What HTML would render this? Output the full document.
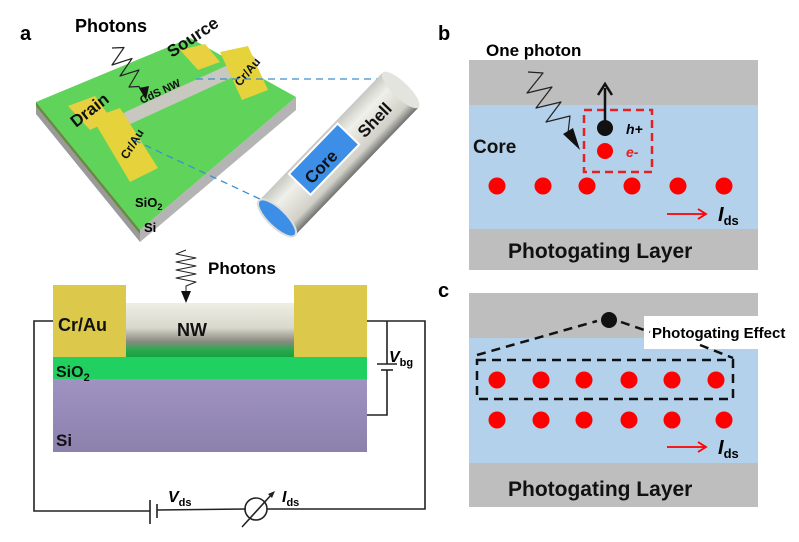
<!DOCTYPE html>
<html><head><meta charset="utf-8"><style>
html,body{margin:0;padding:0;background:#fff}
svg{display:block}
text{font-family:"Liberation Sans",sans-serif;font-weight:bold}
</style></head><body>
<svg width="799" height="542" viewBox="0 0 799 542" xmlns="http://www.w3.org/2000/svg">
<defs>
<linearGradient id="nw" x1="0" y1="0" x2="0" y2="1">
<stop offset="0" stop-color="#eeeee4"/><stop offset="0.45" stop-color="#d8d8cc"/><stop offset="0.7" stop-color="#8a8a80"/><stop offset="0.85" stop-color="#2aa84e"/><stop offset="1" stop-color="#14a040"/></linearGradient>
<linearGradient id="si" x1="0" y1="0" x2="0" y2="1"><stop offset="0" stop-color="#a093c2"/><stop offset="1" stop-color="#8c80ad"/></linearGradient>
<linearGradient id="tube" x1="0" y1="0" x2="0" y2="1"><stop offset="0" stop-color="#c8c8c2"/><stop offset="0.3" stop-color="#f0f0ea"/><stop offset="0.8" stop-color="#d0d0c8"/><stop offset="1" stop-color="#707070"/></linearGradient>
</defs>

<!-- Panel a 3D -->
<text x="20" y="40" font-size="20">a</text>
<text x="75" y="32" font-size="18">Photons</text>
<polygon points="36,102 140,230 140,242 36,114" fill="#9a9a9a"/>
<polygon points="140,230 296,97 296,110 140,242" fill="#b4b4b4"/>
<polygon points="36,102 140,230 140,234 36,106" fill="#6a8a40"/>
<polygon points="36,102 190,38 296,97 140,230" fill="#5fd35a"/>
<line x1="128" y1="118" x2="250" y2="62" stroke="#c8c8c0" stroke-width="13" stroke-linecap="round"/>
<polygon points="68,106 95,96 112,120 90,130" fill="#e8d040"/>
<polygon points="92,118 120,108 158,168 130,182" fill="#e6d23a"/>
<polygon points="180,50 205,44 220,62 198,70" fill="#e8d040"/>
<polygon points="220,52 248,46 268,90 242,100" fill="#e6d23a"/>
<text transform="translate(76,128) rotate(-38)" font-size="17" font-weight="normal" fill="#111">Drain</text>
<text transform="translate(172,58) rotate(-34)" font-size="17" font-weight="normal" fill="#111">Source</text>
<text transform="translate(142,104) rotate(-25)" font-size="11" fill="#111">CdS NW</text>
<text transform="translate(127,160) rotate(-58)" font-size="12" fill="#111">Cr/Au</text>
<text transform="translate(240,87) rotate(-50)" font-size="12" fill="#111">Cr/Au</text>
<text x="135" y="207" font-size="13">SiO<tspan font-size="9" dy="3">2</tspan></text>
<text x="144" y="232" font-size="13">Si</text>
<polyline points="112,48 124,47.5 112,65 132,58.5 120,76 139,70 129,87 139,86.5 145,95" fill="none" stroke="#222" stroke-width="1.2" stroke-linejoin="round"/>
<polygon points="139,88 149,86 146,100" fill="#111"/>
<line x1="196" y1="79" x2="400" y2="79" stroke="#3a8fd0" stroke-width="1.3" stroke-dasharray="7,5"/>
<line x1="134" y1="140" x2="262" y2="200" stroke="#3a8fd0" stroke-width="1.3" stroke-dasharray="7,5"/>
<g transform="translate(277,218) rotate(-46)">
<rect x="0" y="-25" width="178" height="50" fill="url(#tube)"/>
<ellipse cx="178" cy="0" rx="8" ry="25" fill="#e4e4de"/>
<rect x="40" y="-22" width="70" height="30" fill="#3c8ee6" stroke="#fff" stroke-width="2"/>
<ellipse cx="0" cy="0" rx="9" ry="25" fill="#3c8ee6" stroke="#ddd" stroke-width="2"/>
<text x="48" y="2" font-size="17" fill="#111">Core</text>
<text x="118" y="8" font-size="17" fill="#111">Shell</text>
</g>

<!-- cross-section -->
<text x="208" y="274" font-size="17">Photons</text>
<polyline points="186,250 176,254 196,258 176,262 196,266 176,270 196,274 176,278 196,282 186,286 186,296" fill="none" stroke="#222" stroke-width="1" stroke-linejoin="round"/>
<polygon points="181,291 191,291 186,303" fill="#111"/>
<rect x="53" y="285" width="73" height="73" fill="#dcc84a"/>
<rect x="294" y="285" width="73" height="73" fill="#dcc84a"/>
<rect x="126" y="303" width="168" height="55" fill="url(#nw)"/>
<rect x="53" y="357" width="314" height="22" fill="#20d060"/>
<rect x="53" y="379" width="314" height="73" fill="url(#si)"/>
<text x="58" y="331" font-size="18" fill="#111">Cr/Au</text>
<text x="177" y="336" font-size="18" fill="#111">NW</text>
<text x="56" y="377" font-size="16" fill="#111">SiO<tspan font-size="11" dy="4">2</tspan></text>
<text x="56" y="446" font-size="17" fill="#111">Si</text>
<g stroke="#222" stroke-width="1.6" fill="none">
<polyline points="53,321 34,321 34,511 150,511"/>
<polyline points="157,510 246,509"/>
<polyline points="267,509 425,509 425,321 367,321"/>
<polyline points="387,321 387,364"/>
<polyline points="387,370 387,415 367,415"/>
<line x1="377" y1="364" x2="397" y2="364"/>
<line x1="381" y1="370" x2="393" y2="370"/>
<line x1="150" y1="500" x2="150" y2="524"/>
<line x1="157" y1="504" x2="157" y2="518"/>
<circle cx="256" cy="509" r="11"/>
<line x1="242" y1="527" x2="272" y2="494"/>
</g>
<polygon points="268,494 275,491 272,498" fill="#222"/>
<text x="389" y="362" font-size="16" font-style="italic">V<tspan font-size="11" font-style="normal" dy="4">bg</tspan></text>
<text x="168" y="502" font-size="16" font-style="italic">V<tspan font-size="11" font-style="normal" dy="4">ds</tspan></text>
<text x="282" y="502" font-size="16" font-style="italic">I<tspan font-size="11" font-style="normal" dy="4">ds</tspan></text>

<!-- Panel b -->
<text x="438" y="40" font-size="20">b</text>
<rect x="469" y="60" width="289" height="210" fill="#bebebe"/>
<rect x="469" y="105" width="289" height="124" fill="#b3d1ea"/>
<text x="486" y="56" font-size="17">One photon</text>
<text x="473" y="153" font-size="19" fill="#111">Core</text>
<polyline points="528,72 543,73 527,93 552,87 536,108 561,102 546,122 570,116 568,133" fill="none" stroke="#222" stroke-width="1.2" stroke-linejoin="round"/>
<polygon points="563,134 573,128 580,150" fill="#111"/>
<rect x="584" y="110" width="68" height="62" fill="none" stroke="#e52020" stroke-width="2.5" stroke-dasharray="8,5"/>
<line x1="605" y1="120" x2="605" y2="88" stroke="#111" stroke-width="2.5"/>
<polyline points="598,95 605,84 612,95" fill="none" stroke="#111" stroke-width="2.5"/>
<circle cx="605" cy="128" r="8" fill="#111"/>
<circle cx="605" cy="151" r="8" fill="#f00"/>
<text x="626" y="134" font-size="14" font-style="italic">h+</text>
<text x="626" y="157" font-size="14" font-style="italic" fill="#e52020">e-</text>
<g fill="#f00"><circle cx="497" cy="186" r="8.5"/><circle cx="543" cy="186" r="8.5"/><circle cx="587" cy="186" r="8.5"/><circle cx="632" cy="186" r="8.5"/><circle cx="678" cy="186" r="8.5"/><circle cx="724" cy="186" r="8.5"/></g>
<line x1="667" y1="214" x2="704" y2="214" stroke="#f00" stroke-width="1.8"/>
<polyline points="698,209 706,214 698,219" fill="none" stroke="#f00" stroke-width="1.8"/>
<text x="718" y="221" font-size="20" font-style="italic">I<tspan font-size="13" font-style="normal" dy="4">ds</tspan></text>
<text x="508" y="258" font-size="21" fill="#111">Photogating Layer</text>

<!-- Panel c -->
<text x="438" y="297" font-size="20">c</text>
<rect x="469" y="293" width="289" height="214" fill="#bebebe"/>
<rect x="469" y="338" width="289" height="125" fill="#b3d1ea"/>
<rect x="644" y="316" width="155" height="33" fill="#fff"/>
<text x="652" y="338" font-size="15">Photogating Effect</text>
<g stroke="#111" stroke-width="2.5" fill="none" stroke-dasharray="9,6">
<polyline points="477,355 597,321"/>
<polyline points="621,322 650,332"/>
<polyline points="700,345 733,358"/>
<rect x="477" y="360" width="256" height="39"/>
</g>
<circle cx="609" cy="320" r="8" fill="#111"/>
<g fill="#f00">
<circle cx="497" cy="380" r="8.5"/><circle cx="541" cy="380" r="8.5"/><circle cx="584" cy="380" r="8.5"/><circle cx="629" cy="380" r="8.5"/><circle cx="672" cy="380" r="8.5"/><circle cx="716" cy="380" r="8.5"/>
<circle cx="497" cy="420" r="8.5"/><circle cx="541" cy="420" r="8.5"/><circle cx="584" cy="420" r="8.5"/><circle cx="629" cy="420" r="8.5"/><circle cx="672" cy="420" r="8.5"/><circle cx="724" cy="420" r="8.5"/></g>
<line x1="667" y1="447" x2="704" y2="447" stroke="#f00" stroke-width="1.8"/>
<polyline points="698,442 706,447 698,452" fill="none" stroke="#f00" stroke-width="1.8"/>
<text x="718" y="454" font-size="20" font-style="italic">I<tspan font-size="13" font-style="normal" dy="4">ds</tspan></text>
<text x="508" y="496" font-size="21" fill="#111">Photogating Layer</text>
</svg>
</body></html>
